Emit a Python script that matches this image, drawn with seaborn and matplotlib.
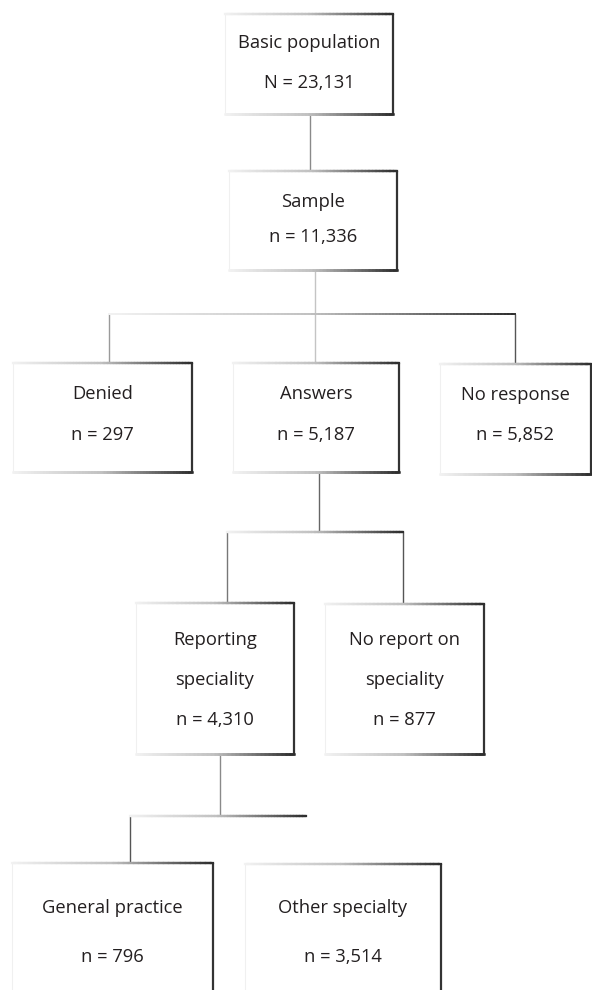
import numpy as np
import matplotlib
matplotlib.use("Agg")
import matplotlib.pyplot as plt
from matplotlib.collections import LineCollection
import seaborn as sns

# box texts and counts
titles = ["Basic population", "Sample", "Denied", "Answers", "No response",
          "Reporting\nspeciality", "No report on\nspeciality",
          "General practice", "Other specialty"]
counts = [23131, 11336, 297, 5187, 5852, 4310, 877, 796, 3514]
count_sym = ["N", "n", "n", "n", "n", "n", "n", "n", "n"]

# layout (pixel units): x0, x1, y0, y1 for each box
boxes = [
    (225, 393, 14, 114),
    (229, 397, 171, 270),
    (13, 192, 363, 472),
    (233, 399, 363, 472),
    (440, 591, 364, 474),
    (136, 294, 603, 754),
    (325, 484, 604, 754),
    (12, 213, 863, 1000),
    (245, 441, 864, 1000),
]
# y positions of the text lines inside each box
text_rows = [
    [43, 83], [202, 237], [394, 435], [394, 435], [395, 435],
    [640, 680, 720], [640, 680, 720], [908, 957], [908, 957],
]

sns.set_theme(style="white")
plt.rcParams['font.family'] = ['Open Sans', 'DejaVu Sans']

fig = plt.figure(figsize=(5.92, 9.90), dpi=100)
ax = fig.add_axes([0, 0, 1, 1])
ax.set_xlim(0, 592)
ax.set_ylim(990, 0)
ax.axis("off")

ramp = sns.blend_palette(["#f2f2f2", "#c0c0c0", "#2e2e2e"], n_colors=120)


def grad_line(x0, y0, x1, y1, lw=1.6, pal=ramp):
    n = len(pal)
    xs = np.linspace(x0, x1, n + 1)
    ys = np.linspace(y0, y1, n + 1)
    segs = [[(xs[i], ys[i]), (xs[i + 1], ys[i + 1])] for i in range(n)]
    ax.add_collection(LineCollection(segs, colors=pal, linewidths=lw,
                                     capstyle="projecting", zorder=3))


def plain(xs, ys, color="#7a7a7a", lw=1.0):
    ax.plot(xs, ys, color=color, lw=lw, solid_capstyle="butt", zorder=2)


for (x0, x1, y0, y1) in boxes:
    ax.fill_between([x0, x1], y0, y1, color="white", zorder=1)
    plain([x0, x0], [y0, y1], color="#f0f0f0", lw=0.8)
    grad_line(x0, y0, x1, y0, lw=1.6)
    grad_line(x0, y1, x1, y1, lw=1.8)
    plain([x1, x1], [y0, y1], color="#333333", lw=1.6)

for i, (x0, x1, y0, y1) in enumerate(boxes):
    cx = (x0 + x1) / 2
    lines = titles[i].split("\n") + [f"{count_sym[i]} = {counts[i]:,}"]
    for txt, ty in zip(lines, text_rows[i]):
        ax.text(cx, ty, txt, ha="center", va="center", fontsize=13.2,
                color="#231f20", zorder=4)

# connectors
plain([310, 310], [114, 171], color="#8a8a8a")
plain([315, 315], [270, 363], color="#c4c4c4")
grad_line(109, 314, 515, 314, lw=1.4)
plain([109, 109], [314, 363], color="#9a9a9a")
plain([515, 515], [314, 364], color="#555555")

plain([319, 319], [472, 532], color="#666666")
grad_line(227, 532, 403, 532, lw=1.6)
plain([227, 227], [532, 603], color="#777777")
plain([403, 403], [532, 604], color="#555555")

plain([220, 220], [754, 816], color="#8a8a8a")
grad_line(130, 816, 306, 816, lw=1.6)
plain([130, 130], [816, 863], color="#555555")

fig.savefig("out.png", dpi=100)
